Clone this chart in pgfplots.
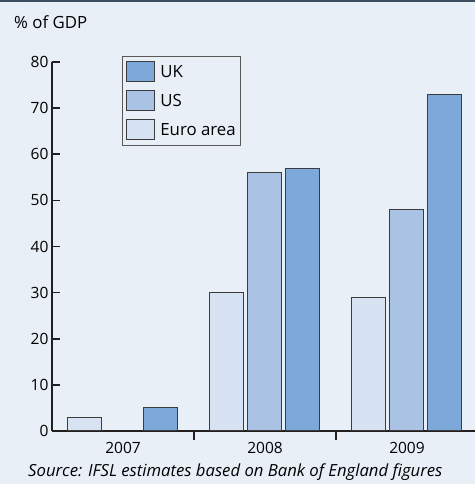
\documentclass[border=0pt]{standalone}
\usepackage{pgfplots}
\pgfplotsset{compat=1.18}
\usepackage{fontspec}
\setmainfont{Open Sans}
\definecolor{bg}{HTML}{E9EFF7}
\definecolor{topline}{HTML}{3E4E60}
\definecolor{axiscol}{HTML}{231F20}
\definecolor{barline}{HTML}{3C3C3C}
\definecolor{ukblue}{HTML}{7DA8DA}
\definecolor{usblue}{HTML}{AAC3E5}
\definecolor{eublue}{HTML}{D7E3F2}
\newcommand{\chartfont}{\fontsize{16.8}{19}\selectfont}
\newcommand{\tickfont}{\fontsize{15.5}{18}\selectfont}
\newcommand{\notefont}{\fontsize{16.7}{19}\selectfont}

\pgfplotstableread{
x val
0 3
1 30
2 29
}\euro
\pgfplotstableread{
x val
1 56
2 48
}\us
\pgfplotstableread{
x val
0 5
1 57
2 73
}\uk

\begin{document}
\begin{tikzpicture}
\fill[bg] (0,0) rectangle (475pt,484pt);
\fill[topline] (0,482pt) rectangle (475pt,484pt);
\node[anchor=west, inner sep=0pt, font=\chartfont] at (14pt,462pt) {\% of GDP};
\node[anchor=base west, inner sep=0pt, font=\notefont\itshape] at (28pt,7pt) {Source: IFSL estimates based on Bank of England figures};
\begin{axis}[
  at={(52pt,53pt)}, anchor=south west,
  scale only axis, width=423pt, height=369pt,
  xmin=-0.5, xmax=2.479, ymin=0, ymax=80,
  axis x line=bottom, axis y line=left,
  axis line style={-, draw=axiscol, line width=1.6pt},
  ytick={0,10,...,80},
  tick align=inside,
  major tick length=8pt,
  y tick style={draw=axiscol, line width=1.6pt},
  xtick={0,1,2}, xticklabels={2007,2008,2009},
  x tick style={draw=none},
  extra x ticks={0.5,1.5}, extra x tick labels={},
  extra x tick style={x tick style={draw=axiscol, line width=1.6pt}, major tick length=9pt},
  tick label style={font=\tickfont},
  /pgf/number format/assume math mode=true,
  ybar, bar width=34pt,
  every axis plot/.append style={draw=barline, line width=1pt},
  reverse legend,
  legend style={at={(0.1655,1.016)}, anchor=north west, draw=gray!70!black, fill=bg,
    line width=0.7pt, font=\chartfont, row sep=8pt, inner xsep=4pt, inner ysep=5pt,
    nodes={inner sep=1pt}, column sep=0pt},
  legend cell align=left,
  legend image code/.code={\draw[#1, line width=1pt] (0pt,-10pt) rectangle (28pt,10pt);},
]
\addplot[fill=eublue, bar shift=-38pt] table[x=x,y=val]{\euro};
\addplot[fill=usblue, bar shift=0pt] table[x=x,y=val]{\us};
\addplot[fill=ukblue, bar shift=38pt] table[x=x,y=val]{\uk};
\legend{\hspace{4pt}Euro area, \hspace{4pt}US, \hspace{4pt}UK}
\end{axis}
\end{tikzpicture}
\end{document}
